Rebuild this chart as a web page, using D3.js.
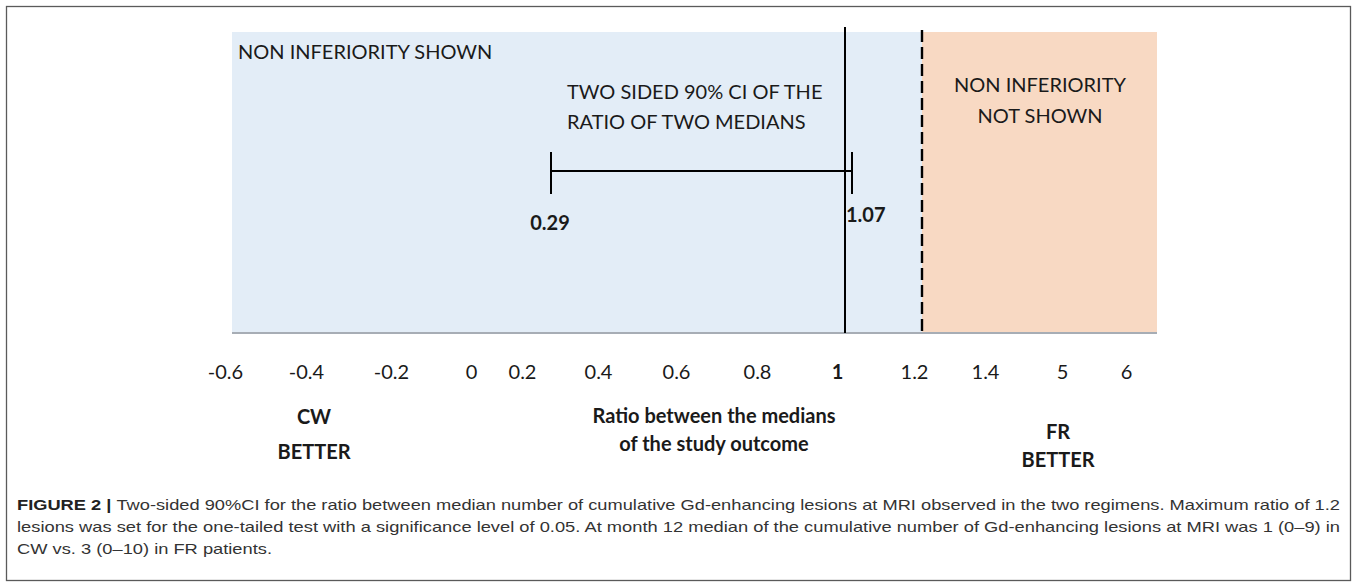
<!DOCTYPE html>
<html>
<head>
<meta charset="utf-8">
<script src="https://cdn.jsdelivr.net/npm/d3@7/dist/d3.min.js"></script>
<style>
	body { margin: 0; background: #fff; }
	text { font-family: Lato, "Open Sans", sans-serif; fill: #1a1a1a; }
	.caption { font-family: "Liberation Sans Narrow", "Liberation Sans", Arial, sans-serif; fill: #333; }
</style>
</head>
<body>
<div id="chart"></div>
<script>

// axis values printed under the chart (the axis is not uniform in the original)
var tickValues = [-0.6, -0.4, -0.2, 0, 0.2, 0.4, 0.6, 0.8, 1, 1.2, 1.4, 5, 6];
var boldTicks = [1];

// two sided 90% CI of the ratio of two medians
var ciBounds = [0.29, 1.07];
var noEffect = 1;
var niMargin = 1.2;

var regionLabels = ["NON INFERIORITY SHOWN"];
var ciTitle = ["TWO SIDED 90% CI OF THE", "RATIO OF TWO MEDIANS"];
var notShownLabel = ["NON INFERIORITY", "NOT SHOWN"];
var leftSide = ["CW", "BETTER"];
var rightSide = ["FR", "BETTER"];
var axisTitle = ["Ratio between the medians", "of the study outcome"];

var caption = [
	"Two-sided 90%CI for the ratio between median number of cumulative Gd-enhancing lesions at MRI observed in the two regimens. Maximum ratio of 1.2",
	"lesions was set for the one-tailed test with a significance level of 0.05. At month 12 median of the cumulative number of Gd-enhancing lesions at MRI was 1 (0\u20139) in",
	"CW vs. 3 (0\u201310) in FR patients."
];

var width = 1357,
	height = 588;

var plot = {top: 32, bottom: 333, left: 232, right: 1157};

// piecewise scale: every labelled value sits where the drawing puts it
var knots = tickValues.concat(ciBounds).sort(d3.ascending);
var x = d3.scaleLinear()
	.domain(knots)
	.range([233, 314, 399, 479, 530, 551, 606, 684, 765, 845, 852, 922, 993, 1070, 1134]);

var svg = d3.select("#chart").append("svg")
	.attr("width", width)
	.attr("height", height);

// frame round the figure
svg.append("rect")
	.attr("x", 6.5).attr("y", 6.5)
	.attr("width", width - 13).attr("height", height - 14)
	.attr("fill", "none")
	.attr("stroke", "#5a5a5a")
	.attr("stroke-width", 1.3);

// shaded regions
svg.append("rect")
	.attr("x", plot.left)
	.attr("y", plot.top)
	.attr("width", x(niMargin) - plot.left)
	.attr("height", plot.bottom - plot.top)
	.attr("fill", "#e3edf7");

svg.append("rect")
	.attr("x", x(niMargin))
	.attr("y", plot.top)
	.attr("width", plot.right - x(niMargin))
	.attr("height", plot.bottom - plot.top)
	.attr("fill", "#f8d9c3");

// baseline
svg.append("line")
	.attr("x1", plot.left).attr("x2", plot.right)
	.attr("y1", plot.bottom).attr("y2", plot.bottom)
	.attr("stroke", "#a7adb5")
	.attr("stroke-width", 2.2);

// line of no difference
svg.append("line")
	.attr("x1", x(noEffect)).attr("x2", x(noEffect))
	.attr("y1", plot.top - 5).attr("y2", plot.bottom)
	.attr("stroke", "#000")
	.attr("stroke-width", 2);

// non-inferiority margin
svg.append("line")
	.attr("x1", x(niMargin)).attr("x2", x(niMargin))
	.attr("y1", plot.top - 2).attr("y2", plot.bottom)
	.attr("stroke", "#000")
	.attr("stroke-width", 2.4)
	.attr("stroke-dasharray", "12,5");

// confidence interval
var ciY = 171;
var ci = svg.append("g").attr("class", "ci");
ci.append("line")
	.attr("x1", x(ciBounds[0])).attr("x2", x(ciBounds[1]))
	.attr("y1", ciY).attr("y2", ciY)
	.attr("stroke", "#000")
	.attr("stroke-width", 2);
ci.selectAll("line.whisker")
	.data(ciBounds)
	.enter().append("line")
	.attr("class", "whisker")
	.attr("x1", function (d) { return x(d); })
	.attr("x2", function (d) { return x(d); })
	.attr("y1", ciY - 19).attr("y2", ciY + 23)
	.attr("stroke", "#000")
	.attr("stroke-width", 2);

ci.append("text")
	.attr("x", x(ciBounds[0]) - 1)
	.attr("y", 230)
	.attr("text-anchor", "middle")
	.style("font-size", "20px")
	.style("font-weight", "bold")
	.text(ciBounds[0]);

ci.append("text")
	.attr("x", x(ciBounds[1]) - 6)
	.attr("y", 222)
	.attr("text-anchor", "start")
	.style("font-size", "20px")
	.style("font-weight", "bold")
	.text(ciBounds[1]);

// annotations
function lines(arr, xPos, y0, step, anchor, weight) {
	svg.append("g").selectAll("text")
		.data(arr)
		.enter().append("text")
		.attr("x", xPos)
		.attr("y", function (d, i) { return y0 + i * step; })
		.attr("text-anchor", anchor)
		.style("font-size", "20px")
		.style("font-weight", weight)
		.text(function (d) { return d; });
}

lines(regionLabels, 238, 59, 0, "start", "normal");
lines(ciTitle, 567, 99, 30, "start", "normal");
lines(notShownLabel, 1040, 92, 31, "middle", "normal");

// x axis labels
var xAxis = d3.axisBottom(x)
	.tickValues(tickValues)
	.tickSize(0)
	.tickPadding(32)
	.tickFormat(function (d) { return String(d); });

var axisG = svg.append("g")
	.attr("transform", "translate(-8," + plot.bottom + ")")
	.call(xAxis);
axisG.select(".domain").remove();
axisG.selectAll("text")
	.style("font-family", "Lato, 'Open Sans', sans-serif")
	.style("font-size", "20px")
	.attr("fill", "#1a1a1a")
	.style("font-weight", function (d) { return boldTicks.indexOf(d) >= 0 ? "bold" : "normal"; });

lines(leftSide, 314, 424, 35, "middle", "bold");
lines(axisTitle, 714, 423, 28, "middle", "bold");
lines(rightSide, 1058, 439, 28, "middle", "bold");

// caption
var capLines = [1323, 1323, 255];
var cap = svg.append("g");
caption.forEach(function (c, i) {
	var t = cap.append("text")
		.attr("class", "caption")
		.attr("x", 17)
		.attr("y", 510 + i * 22)
		.style("font-size", "15px")
		.attr("textLength", capLines[i])
		.attr("lengthAdjust", "spacingAndGlyphs");
	if (i === 0) {
		t.append("tspan").style("font-weight", "bold").attr("fill", "#222").text("FIGURE 2 | ");
	}
	t.append("tspan").text(c);
});

</script>
</body>
</html>
